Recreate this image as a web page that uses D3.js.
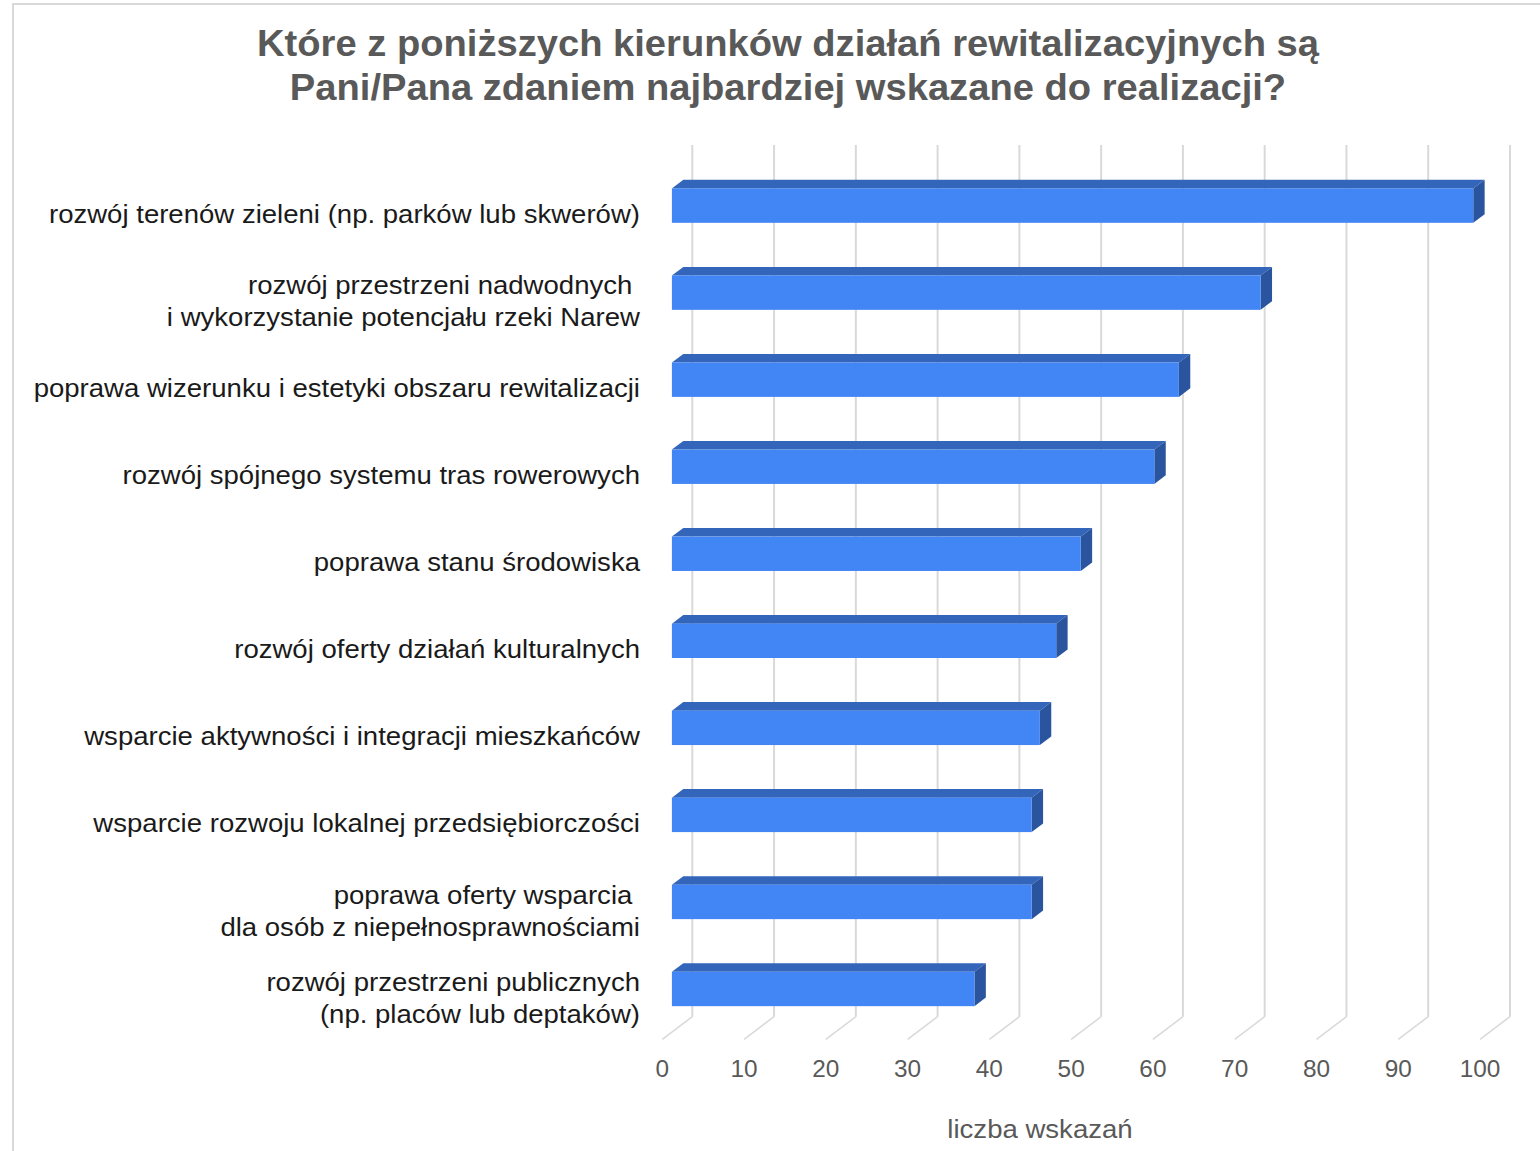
<!DOCTYPE html>
<html><head><meta charset="utf-8">
<script src="https://cdn.jsdelivr.net/npm/d3@7"></script>
<style>
html,body{margin:0;padding:0;background:#fff;}
svg{display:block;}
text{font-family:Arial,"Liberation Sans",sans-serif;}
</style></head>
<body>
<svg id="chart" width="1540" height="1151"></svg>
<script>
const titleLines = ["Które z poniższych kierunków działań rewitalizacyjnych są", "Pani/Pana zdaniem najbardziej wskazane do realizacji?"];
const categories = [
  ["rozwój terenów zieleni (np. parków lub skwerów)"],
  ["rozwój przestrzeni nadwodnych ", "i wykorzystanie potencjału rzeki Narew"],
  ["poprawa wizerunku i estetyki obszaru rewitalizacji"],
  ["rozwój spójnego systemu tras rowerowych"],
  ["poprawa stanu środowiska"],
  ["rozwój oferty działań kulturalnych"],
  ["wsparcie aktywności i integracji mieszkańców"],
  ["wsparcie rozwoju lokalnej przedsiębiorczości"],
  ["poprawa oferty wsparcia ", "dla osób z niepełnosprawnościami"],
  ["rozwój przestrzeni publicznych", "(np. placów lub deptaków)"]
];
const values = [98, 72, 62, 59, 50, 47, 45, 44, 44, 37];
const tickValues = [0, 10, 20, 30, 40, 50, 60, 70, 80, 90, 100];
const axisTitle = "liczba wskazań";

const svg = d3.select("#chart");
const SX = 1.06; // horizontal text stretch seen in the reference
const stretch = (ax) => `translate(${ax},0) scale(${SX},1) translate(${-ax},0)`;

svg.append("path").attr("d","M13,1151 V4 H1540").attr("fill","none").attr("stroke","#d9d9d9").attr("stroke-width",2);

const x = d3.scaleLinear().domain([0,100]).range([692.3,1510]);
const idx = d3.range(categories.length);
const y = d3.scaleBand().domain(idx).range([145,1016.7]).paddingInner(0.605).paddingOuter(0.31).align(0.52);
const DX = -30, DY = 22.6;
const fFront = 0.68, fBack = 0.30;

const g = svg.append("g");

tickValues.forEach(t => {
  g.append("line").attr("x1",x(t)).attr("x2",x(t)).attr("y1",145).attr("y2",1016.7)
    .attr("stroke","#d9d9d9").attr("stroke-width",2);
  g.append("line").attr("x1",x(t)).attr("x2",x(t)+DX).attr("y1",1016.7).attr("y2",1016.7+DY)
    .attr("stroke","#d9d9d9").attr("stroke-width",1.5);
});

idx.forEach(i => {
  const v = values[i];
  const x0f = x(0) + DX*fFront, x1f = x(v) + DX*fFront;
  const y0f = y(i) + DY*fFront, y1f = y(i) + y.bandwidth() + DY*fFront;
  const ddx = DX*(fBack - fFront), ddy = DY*(fBack - fFront);
  g.append("path").attr("d",`M${x0f},${y0f} L${x0f+ddx},${y0f+ddy} L${x1f+ddx},${y0f+ddy} L${x1f},${y0f} Z`)
    .attr("fill","#3366bb");
  g.append("path").attr("d",`M${x1f},${y0f} L${x1f+ddx},${y0f+ddy} L${x1f+ddx},${y1f+ddy} L${x1f},${y1f} Z`)
    .attr("fill","#2a559e");
  g.append("rect").attr("x",x0f).attr("y",y0f).attr("width",x1f-x0f).attr("height",y1f-y0f)
    .attr("fill","#4285f4");
});

const labelSize = 26, lineH = 32;
idx.forEach(i => {
  const cy = y(i) + y.bandwidth()/2 + DY + 1;
  const lines = categories[i];
  const t = svg.append("text").attr("text-anchor","end").attr("font-size",labelSize)
    .attr("fill","#1a1a1a").style("white-space","pre").attr("transform",stretch(640));
  lines.forEach((ln, k) => {
    t.append("tspan").attr("x",640)
      .attr("y", cy + (k - (lines.length-1)/2)*lineH)
      .attr("dy","0.36em").text(ln);
  });
});

tickValues.forEach(t => {
  const tx = x(t)+DX;
  svg.append("text").attr("x",tx).attr("y",1069).attr("dy","0.36em")
    .attr("text-anchor","middle").attr("font-size",23).attr("fill","#595959")
    .attr("transform",stretch(tx)).text(t);
});

svg.append("text").attr("x",1040).attr("y",1129).attr("dy","0.36em").attr("text-anchor","middle")
  .attr("font-size",26).attr("fill","#595959").attr("transform",stretch(1040)).text(axisTitle);

titleLines.forEach((ln,k) => {
  svg.append("text").attr("x",788).attr("y",43 + k*44).attr("dy","0.36em")
    .attr("text-anchor","middle").attr("font-size",36).attr("font-weight","bold")
    .attr("fill","#595959").attr("transform",stretch(788)).text(ln);
});
</script>
</body></html>
